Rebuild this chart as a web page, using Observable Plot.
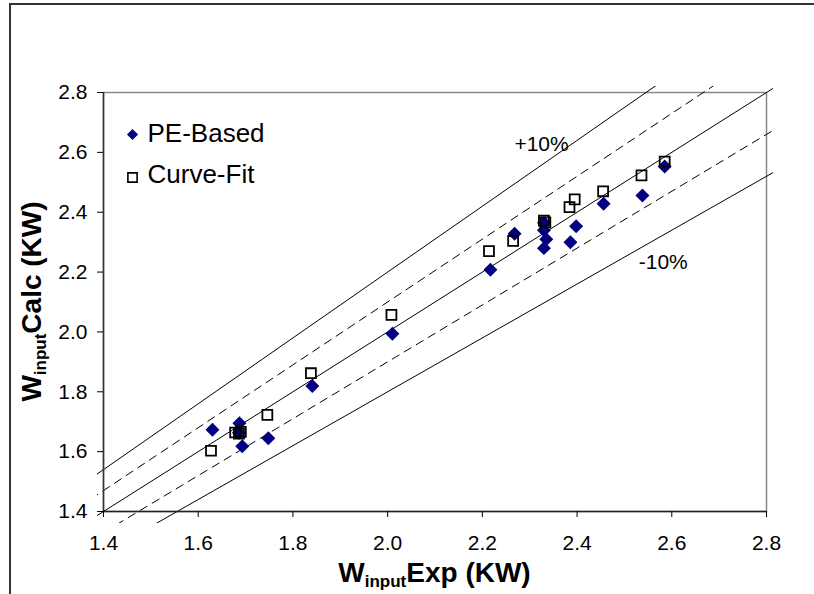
<!DOCTYPE html>
<html><head><meta charset="utf-8">
<script src="https://cdn.jsdelivr.net/npm/d3@7"></script>
<script src="https://cdn.jsdelivr.net/npm/@observablehq/plot@0.6"></script>
<style>
body{margin:0;background:#fff;overflow:hidden;}
#chart svg{display:block;}
</style></head><body>
<div id="chart"></div>
<script>
// PE-Based series (diamonds)
const peExp  = [1.630, 1.687, 1.686, 1.693, 1.748, 1.841, 2.010, 2.217, 2.268, 2.330, 2.330, 2.335, 2.330, 2.386, 2.398, 2.456, 2.538, 2.585];
const peCalc = [1.673, 1.695, 1.663, 1.618, 1.645, 1.819, 1.994, 2.208, 2.328, 2.365, 2.340, 2.310, 2.280, 2.300, 2.353, 2.428, 2.456, 2.553];
// Curve-Fit series (squares)
const cfExp  = [1.627, 1.678, 1.686, 1.690, 1.746, 1.838, 2.008, 2.214, 2.265, 2.330, 2.333, 2.384, 2.395, 2.455, 2.536, 2.585];
const cfCalc = [1.603, 1.664, 1.660, 1.666, 1.723, 1.862, 2.057, 2.270, 2.304, 2.372, 2.366, 2.417, 2.443, 2.470, 2.523, 2.569];
// Axes
const xTicks = [1.4, 1.6, 1.8, 2.0, 2.2, 2.4, 2.6, 2.8];
const yTicks = [1.4, 1.6, 1.8, 2.0, 2.2, 2.4, 2.6, 2.8];
// Reference lines y = k * x
const solidFactors = [1.1, 1.0, 0.9];
const dashedFactors = [1.05, 0.95];
const refXEnds = [1.3, 2.9];
// Annotations
const annLabels = ["+10%", "-10%"];
const annX = [2.325, 2.582];
const annY = [2.626, 2.232];
// Legend
const legendLabels = ["PE-Based", "Curve-Fit"];

const pe = peExp.map((x, i) => ({x, y: peCalc[i]}));
const cf = cfExp.map((x, i) => ({x, y: cfCalc[i]}));
const lineData = ks => ks.flatMap(k => refXEnds.map(x => ({x, y: k * x, k})));
const ann = annLabels.map((t, i) => ({t, x: annX[i], y: annY[i]}));

const mL = 103, mR = 48, mT = 92, mB = 83, W = 814, H = 594;
const font = "Liberation Sans, Arial, sans-serif";

const plot = Plot.plot({
  width: W, height: H,
  marginLeft: mL, marginRight: mR, marginTop: mT, marginBottom: mB,
  style: {fontFamily: font, fontSize: "21px", background: "transparent", color: "#000"},
  x: {domain: [1.4, 2.8]},
  y: {domain: [1.4, 2.8]},
  marks: [
    Plot.frame({stroke: "#888", strokeWidth: 1.5}),
    Plot.line(lineData(solidFactors), {x: "x", y: "y", z: "k", stroke: "#000", strokeWidth: 1, clip: true}),
    Plot.line(lineData(dashedFactors), {x: "x", y: "y", z: "k", stroke: "#000", strokeWidth: 1, strokeDasharray: "8,6", clip: true}),
    Plot.ruleX([1.4], {stroke: "#333", strokeWidth: 1.5}),
    Plot.ruleY([1.4], {stroke: "#222", strokeWidth: 1.5}),
    Plot.axisX({ticks: xTicks, tickFormat: d3.format(".1f"), tickSize: 6, tickPadding: 18, label: null, fontSize: 21}),
    Plot.axisY({ticks: yTicks, tickFormat: d3.format(".1f"), tickSize: 6, tickPadding: 10, label: null, fontSize: 21}),
    Plot.dot(pe, {x: "x", y: "y", symbol: "diamond2", r: 6.3, fill: "#000080", stroke: "none"}),
    Plot.dot(cf, {x: "x", y: "y", symbol: "square", r: 5.6, fill: "none", stroke: "#000", strokeWidth: 1.8}),
    Plot.text(ann, {x: "x", y: "y", text: "t", fontSize: 21, fill: "#000"}),
    // legend
    Plot.dot([legendLabels[0]], {frameAnchor: "top-left", dx: 29, dy: 42, symbol: "diamond2", r: 5, fill: "#000080"}),
    Plot.dot([legendLabels[1]], {frameAnchor: "top-left", dx: 29, dy: 85, symbol: "square", r: 5.2, fill: "#fff", stroke: "#000", strokeWidth: 1.6}),
    Plot.text([legendLabels[0]], {frameAnchor: "top-left", lineAnchor: "middle", dx: 44, dy: 41, text: d => d, textAnchor: "start", fontSize: 26, fill: "#000"}),
    Plot.text([legendLabels[1]], {frameAnchor: "top-left", lineAnchor: "middle", dx: 44, dy: 82, text: d => d, textAnchor: "start", fontSize: 26, fill: "#000"})
  ]
});

const svg = d3.select(plot);
// extend line clipping slightly beyond the plot frame, as in the reference
svg.selectAll("clipPath rect").each(function() {
  d3.select(this)
    .attr("x", mL - 6).attr("y", mT - 6)
    .attr("width", W - mL - mR + 13).attr("height", H - mT - mB + 18);
});
// outer chart border (cropped on right and bottom)
svg.insert("path", ":first-child")
  .attr("d", `M10,${H + 5}V4H${W + 5}`)
  .attr("fill", "none").attr("stroke", "#333").attr("stroke-width", 2);

// axis titles with subscripts
function title(g, rest) {
  g.attr("font-family", font).attr("font-weight", "bold").attr("font-size", 28).attr("text-anchor", "middle").attr("fill", "#000");
  g.append("tspan").text("W");
  g.append("tspan").attr("font-size", 17).attr("dy", 5).text("input");
  g.append("tspan").attr("dy", -5).text(rest);
}
title(svg.append("text").attr("x", mL + (W - mL - mR) / 2).attr("y", 582), "Exp (KW)");
title(svg.append("text").attr("transform", `translate(41,${mT + (H - mT - mB) / 2}) rotate(-90)`), "Calc (KW)");

document.getElementById("chart").appendChild(plot);
</script>
</body></html>
